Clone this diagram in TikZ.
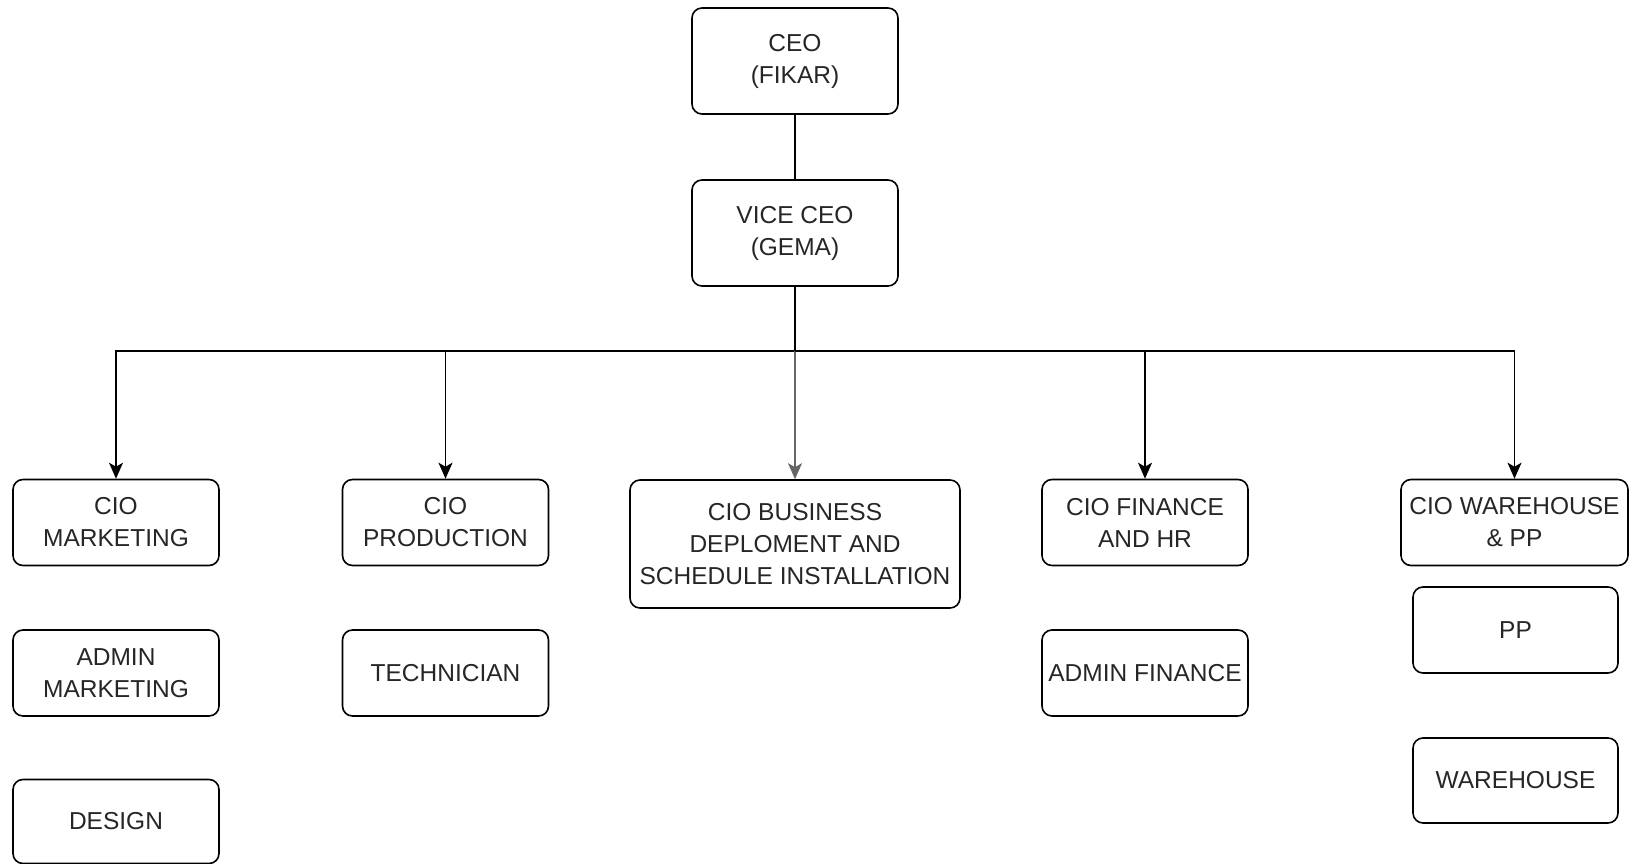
\documentclass[tikz,border=0pt]{standalone}
\usepackage{fontspec}
\setmainfont{Liberation Sans}
\usetikzlibrary{arrows.meta}

\begin{document}
\begin{tikzpicture}[
  x=1pt, y=-1pt,
  box/.style={draw, rounded corners=10pt, line width=1.6pt, align=center,
    minimum width=206pt, minimum height=86pt, inner sep=2pt,
    text=black!85, font=\fontsize{24.5}{32}\selectfont},
  link/.style={line width=1.6pt},
  arr/.style={line width=1.6pt, -{Stealth[length=16pt,width=14pt,inset=4pt]}}]
\useasboundingbox (0,0) rectangle (1636,864);

\node[box, minimum height=106pt] (ceo) at (795,61) {CEO\\(FIKAR)};
\node[box, minimum height=106pt] (vc) at (795,233) {VICE CEO\\(GEMA)};

\node[box] (m1) at (116,522.5) {CIO\\MARKETING};
\node[box] (m2) at (116,673) {ADMIN\\MARKETING};
\node[box, minimum height=84pt] (m3) at (116,821.5) {DESIGN};

\node[box] (p1) at (445.5,522.5) {CIO\\PRODUCTION};
\node[box] (p2) at (445.5,673) {TECHNICIAN};

\node[box, minimum width=330pt, minimum height=128pt] (b1) at (795,544)
  {CIO BUSINESS\\DEPLOMENT AND\\SCHEDULE INSTALLATION};

\node[box] (f1) at (1145,522.5) {CIO FINANCE\\AND HR};
\node[box] (f2) at (1145,673) {ADMIN FINANCE};

\node[box, minimum width=227pt] (w1) at (1514.5,522.5) {CIO WAREHOUSE\\\& PP};
\node[box, minimum width=205pt] (w2) at (1515.5,630) {PP};
\node[box, minimum width=205pt, minimum height=85pt] (w3) at (1515.5,780.5) {WAREHOUSE};

\coordinate (bus) at (795,351);

\draw[link] (ceo) -- (vc);
\draw[link] (vc) -- (bus);
\draw[arr] (bus) -| (m1.north);
\draw[arr] (bus) -| (p1.north);
\draw[arr, black!60] (bus) -- (b1.north);
\draw[arr] (bus) -| (f1.north);
\draw[arr] (bus) -| (w1.north);
\end{tikzpicture}
\end{document}
